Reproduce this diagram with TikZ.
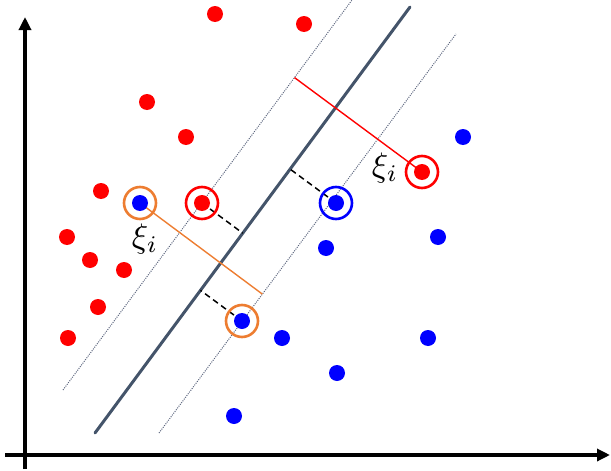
\documentclass[tikz,border=0pt]{standalone}
\usepackage{tikz}
\usetikzlibrary{arrows.meta,calc,backgrounds}
\definecolor{hyper}{RGB}{68,84,106}
\definecolor{marginc}{RGB}{90,100,125}
\definecolor{ptred}{RGB}{255,0,0}
\definecolor{ptblue}{RGB}{0,0,255}
\definecolor{slack}{RGB}{237,125,49}
\tikzset{
  reddot/.style={circle,fill=ptred,minimum size=16pt,inner sep=0pt},
  bluedot/.style={circle,fill=ptblue,minimum size=16pt,inner sep=0pt},
  ring/.style={circle,draw=#1,line width=2.6pt,minimum size=32pt,inner sep=0pt},
  axis/.style={line width=3.2pt,-{Triangle[length=13pt,width=12pt]}},
  hyperplane/.style={hyper,line width=3pt,line cap=round},
  marginline/.style={marginc,line width=1pt,dash pattern=on 1pt off 1.2pt},
  distline/.style={black,line width=1.5pt,dash pattern=on 6pt off 4pt},
  slackline/.style={line width=1.4pt},
  xilabel/.style={scale=3.4,transform shape,inner sep=0pt},
}
\begin{document}
\begin{tikzpicture}[x=1pt,y=-1pt]
  \useasboundingbox (0,0) rectangle (611,471);
  % axes
  \coordinate (xstart) at (5,455);
  \coordinate (xend) at (610,455);
  \coordinate (ystart) at (25,469);
  \coordinate (yend) at (25,17);
  \draw[axis] (xstart) -- (xend);
  \draw[axis] (ystart) -- (yend);

  % separating line and margins
  \coordinate (h0) at (95,433);
  \coordinate (h1) at (410,7);
  \coordinate (u0) at (63,390);
  \coordinate (u1) at (352,0);
  \coordinate (l0) at (159,433);
  \coordinate (l1) at (456,34);

  % red class
  \foreach \x/\y [count=\i] in {215/14,304/24,147/102,186/137,101/191,
      67/237,90/260,124/270,98/307,68/338,202/203,422/172}
    \node[reddot] (r\i) at (\x,\y) {};
  % blue class
  \foreach \x/\y [count=\i] in {463/137,140/203,336/203,326/248,438/237,
      242/321,282/338,428/338,337/373,234/416}
    \node[bluedot] (b\i) at (\x,\y) {};

  \node[ring=slack] (c1) at (b2) {};
  \node[ring=ptred] (c2) at (r11) {};
  \node[ring=ptblue] (c3) at (b3) {};
  \node[ring=slack] (c4) at (b6) {};
  \node[ring=ptred] (c5) at (r12) {};

  \node[xilabel] (xi1) at (145,239) {$\xi_i$};
  \node[xilabel] (xi2) at (385,168) {$\xi_i$};

  \begin{scope}[on background layer]
    \draw[marginline] (u0) -- (u1);
    \draw[marginline] (l0) -- (l1);
    \draw[hyperplane] (h0) -- (h1);
    \draw[distline] (r11.center) -- ($(h0)!(r11)!(h1)$);
    \draw[distline] (b3.center) -- ($(h0)!(b3)!(h1)$);
    \draw[distline] (b6.center) -- ($(h0)!(b6)!(h1)$);
    \draw[slackline,slack] (b2.center) -- ($(l0)!(b2)!(l1)$);
    \draw[slackline,ptred] (r12.center) -- ($(u0)!(r12)!(u1)$);
  \end{scope}
\end{tikzpicture}
\end{document}
